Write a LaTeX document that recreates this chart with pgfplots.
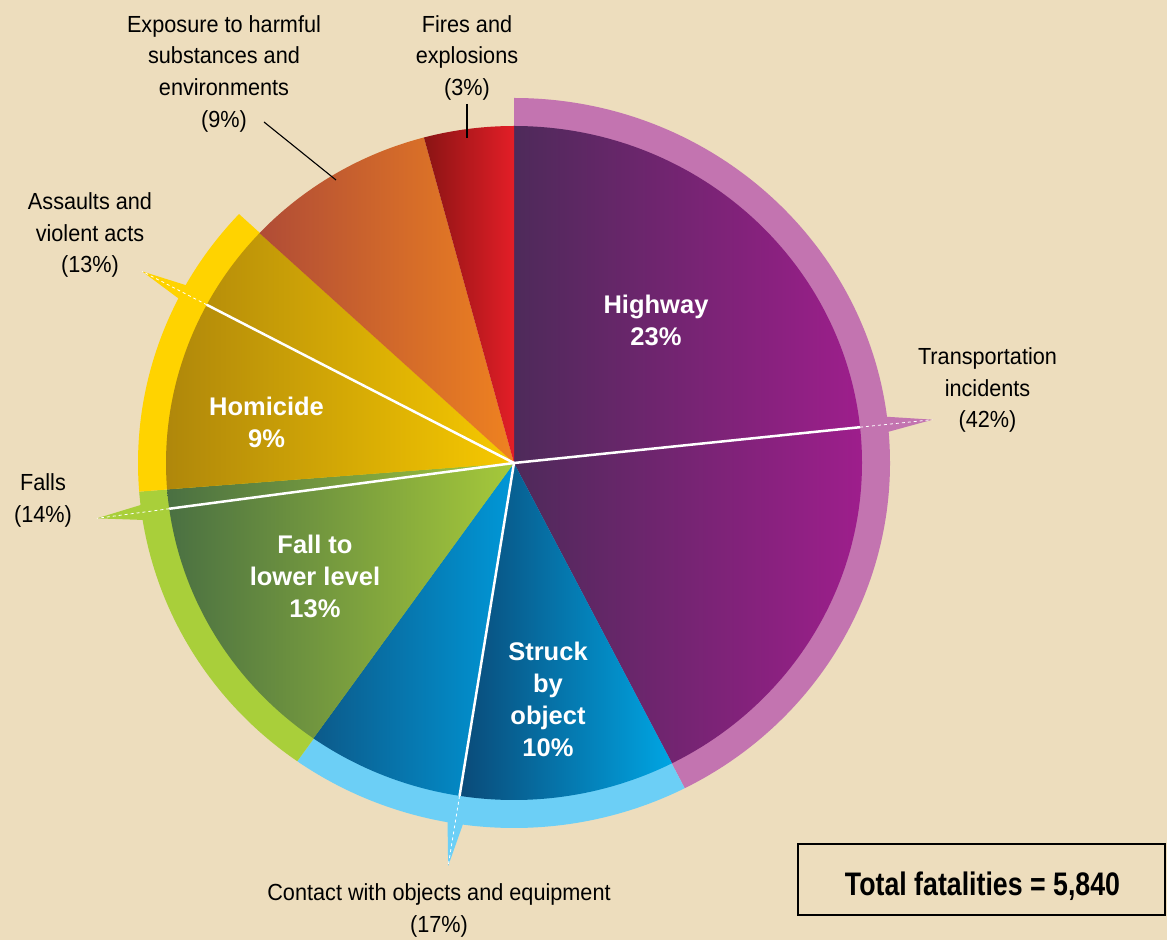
\documentclass[border=0pt]{standalone}
\usepackage{pgfplots}
\pgfplotsset{compat=1.18}
\usepackage{fontspec}
\setmainfont{Liberation Sans}
\newfontfamily\narrow[FakeStretch=0.93]{Liberation Sans}
\newfontfamily\narrowT[FakeStretch=0.82]{Liberation Sans}

\definecolor{bg}{HTML}{EDDDBD}
\definecolor{trL}{HTML}{4E2A5A}\definecolor{trR}{HTML}{9E1E8C}\definecolor{trRing}{HTML}{C374B0}
\definecolor{stL}{HTML}{0A4A78}\definecolor{stR}{HTML}{00A5E3}
\definecolor{ocL}{HTML}{0C5A8A}\definecolor{ocR}{HTML}{0098D8}\definecolor{coRing}{HTML}{6CCFF6}
\definecolor{faL}{HTML}{4A7042}\definecolor{faR}{HTML}{A6C93A}\definecolor{faRing}{HTML}{A9CF3A}
\definecolor{asL}{HTML}{AE860B}\definecolor{asR}{HTML}{F7C900}\definecolor{asRing}{HTML}{FFD300}
\definecolor{exL}{HTML}{B04C36}\definecolor{exR}{HTML}{EF8220}
\definecolor{fiL}{HTML}{8A1414}\definecolor{fiR}{HTML}{E31E27}

% slice sizes as drawn (degrees, clockwise from 12 o'clock)
\def\sHighway{83.9}
\def\sOtherTransport{69.1}
\def\sStruck{36.0}
\def\sOtherContact{26.2}
\def\sFallLower{47.0}
\def\sOtherFalls{3.3}
\def\sHomicide{32.5}
\def\sOtherAssaults{15.0}
\def\sExposure{32.0}
\def\sFires{15.0}

\pgfmathsetmacro\aA{90}
\pgfmathsetmacro\aB{\aA-\sHighway}
\pgfmathsetmacro\aC{\aB-\sOtherTransport}
\pgfmathsetmacro\aD{\aC-\sStruck}
\pgfmathsetmacro\aE{\aD-\sOtherContact}
\pgfmathsetmacro\aF{\aE-\sFallLower}
\pgfmathsetmacro\aG{\aF-\sOtherFalls}
\pgfmathsetmacro\aH{\aG-\sHomicide}
\pgfmathsetmacro\aI{\aH-\sOtherAssaults}
\pgfmathsetmacro\aJ{\aI-\sExposure}
\pgfmathsetmacro\aK{\aJ-\sFires}

\def\cx{514}\def\cy{477}
\def\rx{348}\def\ry{337}
\def\Rx{376}\def\Ry{365}
\def\Rxi{372}\def\Ryi{361}
\def\tx{421}\def\ty{408}

\newcommand\outerwedge[3]{%
  \fill[#3] (axis cs:\cx,\cy) -- ++(#1:\Rx pt and \Ry pt)
    arc[start angle=#1,end angle=#2,x radius=\Rx pt,y radius=\Ry pt] -- cycle;}
\newcommand\piewedge[4]{%
  \shade[left color=#3,right color=#4] (axis cs:\cx,\cy) -- ++(#1:\rx pt and \ry pt)
    arc[start angle=#1,end angle=#2,x radius=\rx pt,y radius=\ry pt] -- cycle;}
\newcommand\pointer[2]{%
  \fill[#2] (axis cs:\cx,\cy) +(#1+1.3:\Rxi pt and \Ryi pt) -- +(#1:\tx pt and \ty pt)
    -- +(#1-1.3:\Rxi pt and \Ryi pt) -- cycle;}
\newcommand\subline[1]{%
  \draw[white,line width=2.5pt] (axis cs:\cx,\cy) -- +(#1:\rx pt and \ry pt);
  \draw[white,line width=0.8pt,dash pattern=on 3pt off 3pt] (axis cs:\cx,\cy)
    +(#1:\rx pt and \ry pt) -- +(#1:\tx pt and \ty pt);}

\begin{document}
\begin{tikzpicture}
\begin{axis}[x=1pt,y=1pt,xmin=0,xmax=1167,ymin=0,ymax=940,hide axis,clip=false]
\fill[bg] (axis cs:0,0) rectangle (axis cs:1167,940);
% outer rings of the four broad categories
\outerwedge{\aA}{\aC}{trRing}
\outerwedge{\aC}{\aE}{coRing}
\outerwedge{\aE}{\aG}{faRing}
\outerwedge{\aG}{\aI}{asRing}
\pointer{\aB}{trRing}
\pointer{\aD}{coRing}
\pointer{\aF}{faRing}
\pointer{\aH}{asRing}
% pie
\piewedge{\aA}{\aC}{trL}{trR}
\piewedge{\aC}{\aD}{stL}{stR}
\piewedge{\aD}{\aE}{ocL}{ocR}
\piewedge{\aE}{\aG}{faL}{faR}
\piewedge{\aG}{\aI}{asL}{asR}
\piewedge{\aI}{\aJ}{exL}{exR}
\piewedge{\aJ}{\aK}{fiL}{fiR}
\subline{\aB}
\subline{\aD}
\subline{\aF}
\subline{\aH}
% leader lines
\draw[black,line width=1.1pt] (axis cs:264,818) -- (axis cs:336,760);
\draw[black,line width=1.1pt] (axis cs:467,836) -- (axis cs:467,802);
% outer labels
\begin{scope}[every node/.style={inner sep=0pt,align=center,anchor=north,
    font=\narrow\fontsize{23.3pt}{31.7pt}\selectfont}]
\node at (axis cs:224,925) {Exposure to harmful\\substances and\\environments\\(9\%)};
\node at (axis cs:467,925) {Fires and\\explosions\\(3\%)};
\node at (axis cs:90,747.5) {Assaults and\\violent acts\\(13\%)};
\node at (axis cs:43,466.5) {Falls\\(14\%)};
\node at (axis cs:987.5,592.5) {Transportation\\incidents\\(42\%)};
\node at (axis cs:439,56.5) {Contact with objects and equipment\\(17\%)};
\end{scope}
% inner labels
\begin{scope}[every node/.style={inner sep=0pt,align=center,anchor=north,text=white,
    font=\fontsize{25.5pt}{32pt}\selectfont\bfseries}]
\node at (axis cs:656,645) {Highway\\23\%};
\node at (axis cs:266.5,543) {Homicide\\9\%};
\node at (axis cs:315,405) {Fall to\\lower level\\13\%};
\node at (axis cs:548,298) {Struck\\by\\object\\10\%};
\end{scope}
% total box
\draw[black,line width=1.4pt,fill=bg] (axis cs:798,96) rectangle (axis cs:1165,25);
\node[inner sep=0pt,anchor=base,font=\narrowT\fontsize{32.6pt}{36pt}\selectfont\bfseries]
  at (axis cs:982.5,45) {Total fatalities = 5,840};
\end{axis}
\end{tikzpicture}
\end{document}
